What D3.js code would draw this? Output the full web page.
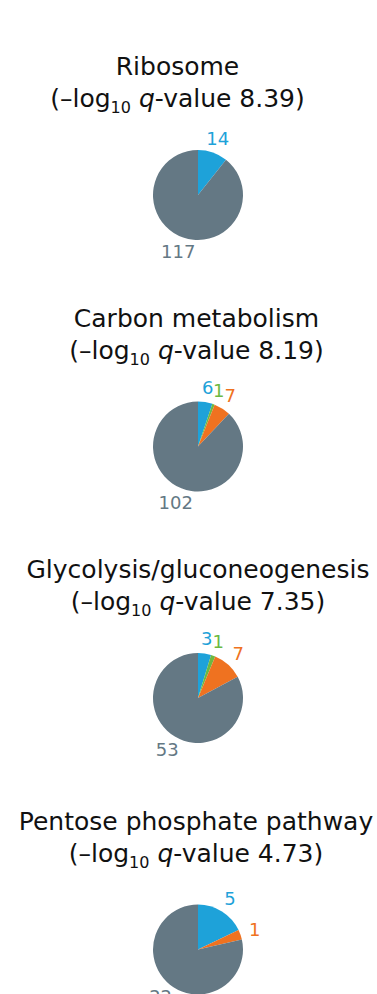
<!DOCTYPE html>
<html>
<head>
<meta charset="utf-8">
<script src="https://cdn.jsdelivr.net/npm/d3@7"></script>
<style>
  html, body { margin: 0; padding: 0; background: #ffffff; }
  svg { display: block; }
  text { font-family: "DejaVu Sans", sans-serif; }
</style>
</head>
<body>
<svg id="chart" width="377" height="994"></svg>
<script>
// ---- data ----
const pathways = ["Ribosome", "Carbon metabolism", "Glycolysis/gluconeogenesis", "Pentose phosphate pathway"];
const qValues = ["8.39", "8.19", "7.35", "4.73"];
const groups = ["blue", "green", "orange", "gray"];
const blueCounts = [14, 6, 3, 5];
const greenCounts = [0, 1, 1, 0];
const orangeCounts = [0, 7, 7, 1];
const grayCounts = [117, 102, 53, 22];

// ---- layout / style ----
const colors = d3.scaleOrdinal().domain(groups).range(["#1ea2d9", "#6cb942", "#ef7220", "#647884"]);
const svg = d3.select("#chart");
const W = 377;
const pieCx = 198;
const firstCy = 195;
const step = 251.5;
const radius = 45;
const labelR = 60;
const titleCx = [177.5, 196.5, 198, 196];

const pie = d3.pie().sort(null).value(d => d.value).startAngle(0).endAngle(2 * Math.PI);
const arc = d3.arc().innerRadius(0).outerRadius(radius);
const labelArc = d3.arc().innerRadius(labelR).outerRadius(labelR);

pathways.forEach((name, i) => {
  const cy = firstCy + i * step;
  const g = svg.append("g");

  // title
  const t = g.append("text")
    .attr("text-anchor", "middle")
    .attr("font-size", 25)
    .attr("fill", "#111111");
  t.append("tspan").attr("x", titleCx[i]).attr("y", cy - 120).text(name);
  const l2 = t.append("tspan").attr("x", titleCx[i]).attr("y", cy - 88);
  l2.append("tspan").text("(\u2013log");
  l2.append("tspan").attr("font-size", 16).attr("dy", 6).text("10");
  l2.append("tspan").attr("dy", -6).text(" ");
  l2.append("tspan").attr("font-style", "italic").text("q");
  l2.append("tspan").text("-value " + qValues[i] + ")");

  const values = [
    { key: "blue", value: blueCounts[i] },
    { key: "green", value: greenCounts[i] },
    { key: "orange", value: orangeCounts[i] },
    { key: "gray", value: grayCounts[i] }
  ];
  const arcs = pie(values);

  const pg = g.append("g").attr("transform", `translate(${pieCx},${cy})`);
  pg.selectAll("path")
    .data(arcs.filter(d => d.data.value > 0))
    .join("path")
    .attr("d", arc)
    .attr("fill", d => colors(d.data.key));

  pg.selectAll("text.lbl")
    .data(arcs.filter(d => d.data.value > 0))
    .join("text")
    .attr("class", "lbl")
    .attr("transform", d => `translate(${labelArc.centroid(d)})`)
    .attr("text-anchor", "middle")
    .attr("dy", "0.36em")
    .attr("font-size", 18)
    .attr("fill", d => colors(d.data.key))
    .text(d => d.data.value);
});
</script>
</body>
</html>
